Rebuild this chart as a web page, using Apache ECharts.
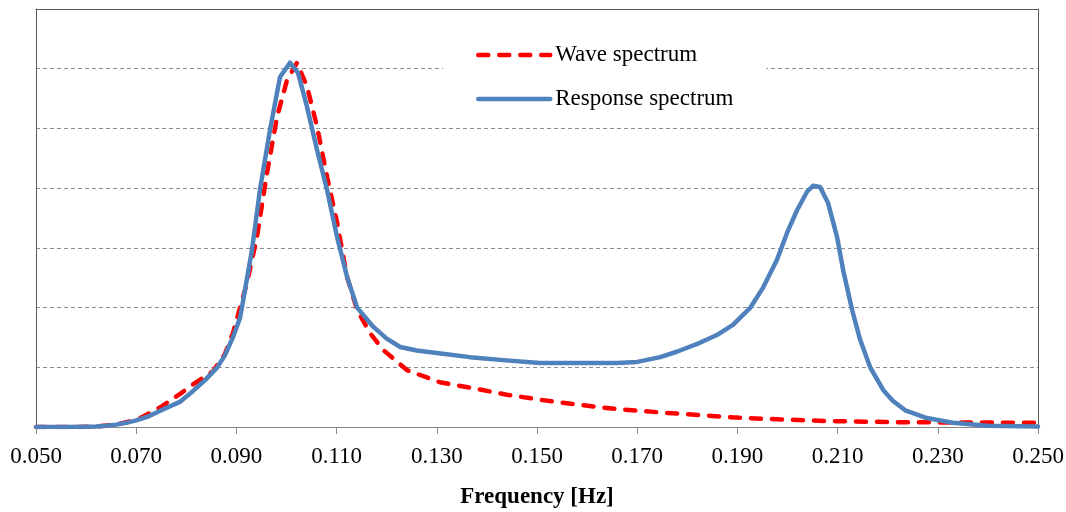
<!DOCTYPE html>
<html>
<head>
<meta charset="utf-8">
<script src="https://cdn.jsdelivr.net/npm/echarts@6/dist/echarts.min.js"></script>
<style>
    body { margin: 0; background: #fff; }
    #chart_spectrum { width: 1066px; height: 512px; }
</style>
</head>
<body>
<div id="chart_spectrum"></div>
<script>
// Data (frequency in Hz, spectral density in grid units)
var series_names = ['Wave spectrum', 'Response spectrum'];

var wave_freq = [0.050, 0.058, 0.062, 0.066, 0.068, 0.0702, 0.0748, 0.0787, 0.0813, 0.0853, 0.0877,
    0.0893, 0.0921, 0.0941, 0.0961, 0.0981, 0.1001, 0.1021, 0.1041, 0.1061, 0.1081, 0.1101,
    0.1121, 0.1141, 0.1167, 0.1193, 0.1241, 0.1306, 0.1372, 0.144, 0.1512, 0.1586, 0.166,
    0.1752, 0.1911, 0.2079, 0.2225, 0.250];
var wave_values = [0, 0, 0.01, 0.04, 0.08, 0.12, 0.33, 0.55, 0.71, 0.93, 1.22,
    1.57, 2.41, 3.18, 4.25, 5.19, 5.81, 6.10, 5.70, 5.03, 4.19, 3.42,
    2.51, 1.96, 1.57, 1.29, 0.95, 0.75, 0.65, 0.54, 0.45, 0.37, 0.30,
    0.24, 0.15, 0.10, 0.08, 0.07];

var response_freq = [0.050, 0.056, 0.060, 0.062, 0.064, 0.066, 0.068, 0.070, 0.0725, 0.075, 0.0787,
    0.0813, 0.0837, 0.0861, 0.0877, 0.0893, 0.0907, 0.0911, 0.0931, 0.0947, 0.0967, 0.0987,
    0.1007, 0.1023, 0.1041, 0.1061, 0.1081, 0.1101, 0.1121, 0.1141, 0.1173, 0.1200, 0.1227,
    0.1260, 0.130, 0.1366, 0.1432, 0.1506, 0.160, 0.166, 0.170, 0.1746, 0.1779, 0.1825,
    0.1859, 0.1891, 0.1925, 0.1951, 0.1979, 0.1999, 0.2019, 0.2039, 0.2051, 0.2065, 0.2081,
    0.2099, 0.2111, 0.2129, 0.2145, 0.2165, 0.2191, 0.2210, 0.2235, 0.2278, 0.233, 0.2398, 0.250];
var response_values = [0, 0, 0.005, 0.01, 0.02, 0.04, 0.07, 0.11, 0.18, 0.28, 0.42,
    0.60, 0.78, 0.99, 1.2, 1.50, 1.82, 2.0, 2.96, 3.97, 4.97, 5.86,
    6.10, 5.93, 5.36, 4.64, 3.97, 3.18, 2.51, 2.0, 1.68, 1.48, 1.34,
    1.28, 1.24, 1.17, 1.12, 1.07, 1.07, 1.07, 1.09, 1.17, 1.26, 1.41,
    1.54, 1.71, 1.99, 2.33, 2.80, 3.25, 3.63, 3.94, 4.04, 4.02, 3.75,
    3.18, 2.63, 1.96, 1.46, 1.0, 0.62, 0.44, 0.28, 0.15, 0.07, 0.02, 0.01];

var x_min = 0.05, x_max = 0.25, x_step = 0.02;
var y_max = 7;

function pairs(xs, ys) {
    var out = [];
    for (var i = 0; i < xs.length; i++) {
        out.push([xs[i], ys[i]]);
    }
    return out;
}

function create_spectrum_chart() {
    var myChart = echarts.init(document.getElementById("chart_spectrum"));
    var font = 'Liberation Serif';

    var option = {
        animation: false,
        backgroundColor: '#fff',
        grid: {left: 36, right: 28, top: 9, bottom: 85, outerBoundsMode: 'none'},
        legend: {
            orient: 'vertical',
            left: 443,
            top: 23,
            padding: [20, 33, 10, 33],
            backgroundColor: '#fff',
            itemWidth: 72,
            itemHeight: 14,
            itemGap: 20,
            data: series_names,
            // hide the marker dot, keep the line sample at full width
            itemStyle: {opacity: 0},
            lineStyle: {width: 4.5, cap: 'round'},
            textStyle: {fontFamily: font, fontSize: 23, color: '#000', lineHeight: 24}
        },
        xAxis: [
            {
                type: 'value',
                min: x_min,
                max: x_max,
                interval: x_step,
                name: 'Frequency [Hz]',
                nameLocation: 'middle',
                nameGap: 59,
                nameTextStyle: {fontFamily: font, fontSize: 23, fontWeight: 'bold', color: '#000'},
                axisLine: {lineStyle: {color: '#898989', width: 1}},
                axisTick: {show: true, inside: false, length: 7, lineStyle: {color: '#898989'}},
                axisLabel: {
                    margin: 18,
                    fontFamily: font,
                    fontSize: 23,
                    color: '#000',
                    formatter: function(v) { return v.toFixed(3); }
                },
                splitLine: {show: false}
            },
            {
                // top border of the plot area
                type: 'value',
                position: 'top',
                min: x_min,
                max: x_max,
                axisLine: {show: true, onZero: false, lineStyle: {color: '#595959', width: 1}},
                axisTick: {show: false},
                axisLabel: {show: false},
                splitLine: {show: false}
            }
        ],
        yAxis: [
            {
                type: 'value',
                min: 0,
                max: y_max,
                interval: 1,
                axisLine: {show: true, onZero: false, lineStyle: {color: '#595959', width: 1}},
                axisTick: {show: false},
                axisLabel: {show: false},
                splitLine: {
                    show: true,
                    showMinLine: false,
                    showMaxLine: false,
                    lineStyle: {color: '#8c8c8c', width: 1, type: [4, 3]}
                }
            },
            {
                type: 'value',
                position: 'right',
                min: 0,
                max: y_max,
                axisLine: {show: true, onZero: false, lineStyle: {color: '#595959', width: 1}},
                axisTick: {show: false},
                axisLabel: {show: false},
                splitLine: {show: false}
            }
        ],
        series: [
            {
                name: series_names[0],
                type: 'line',
                symbol: 'none',
                data: pairs(wave_freq, wave_values),
                itemStyle: {color: '#ff0000'},
                lineStyle: {color: '#ff0000', width: 4.5, type: [10, 11], cap: 'round', join: 'round'}
            },
            {
                name: series_names[1],
                type: 'line',
                symbol: 'none',
                data: pairs(response_freq, response_values),
                itemStyle: {color: '#4f81bd'},
                lineStyle: {color: '#4f81bd', width: 4.5, cap: 'round', join: 'round'}
            }
        ]
    };
    myChart.setOption(option);
}

create_spectrum_chart();
</script>
</body>
</html>
